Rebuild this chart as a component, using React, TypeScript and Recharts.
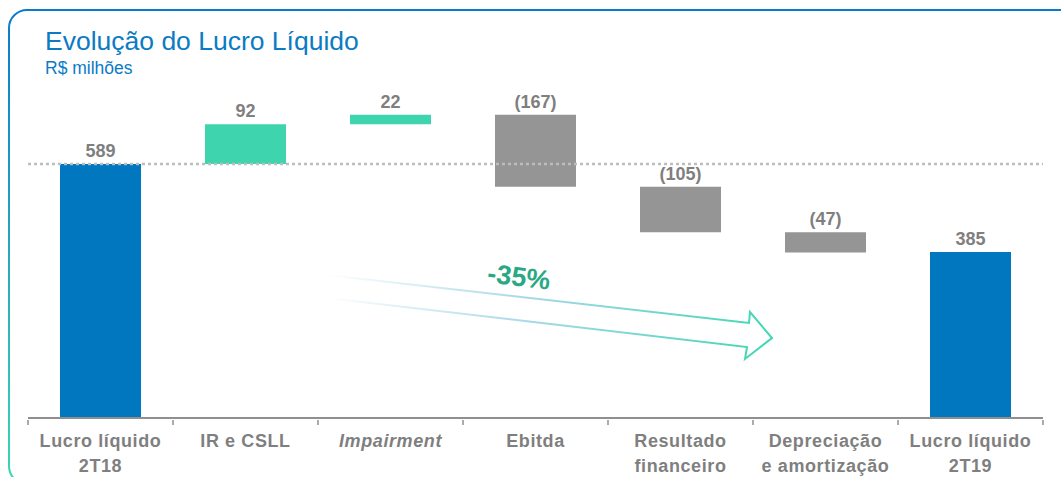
import React from 'react';
import { BarChart, Bar, XAxis, YAxis, Cell, LabelList, ReferenceLine } from 'recharts';

// categories, values and kinds for the waterfall
const categories = [
  'Lucro líquido\n2T18',
  'IR e CSLL',
  'Impairment',
  'Ebitda',
  'Resultado\nfinanceiro',
  'Depreciação\ne amortização',
  'Lucro líquido\n2T19',
];
const values = [589, 92, 22, -167, -105, -47, 385];
const kinds = ['total', 'delta', 'delta', 'delta', 'delta', 'delta', 'total'];
const italicCategories = ['Impairment'];
const referenceValue = 589;

const WIDTH = 1061;
const HEIGHT = 477;
const AXIS_HEIGHT = 59;
const MARGIN = { top: 73, right: 18, bottom: 0, left: 28 };
const BAND = (WIDTH - MARGIN.left - MARGIN.right) / categories.length;

const BLUE = '#0077bf';
const TEAL = '#3dd4ae';
const GRAY = '#959595';
const TEXT_GRAY = '#7f7f7f';

interface Row {
  name: string;
  base: number;
  size: number;
  value: number;
  color: string;
}

const buildRows = (): Row[] => {
  let running = 0;
  return categories.map((name, i) => {
    const v = values[i];
    if (kinds[i] === 'total') {
      running = v;
      return { name, base: 0, size: v, value: v, color: BLUE };
    }
    const start = running;
    running = start + v;
    return {
      name,
      base: Math.min(start, running),
      size: Math.abs(v),
      value: v,
      color: v >= 0 ? TEAL : GRAY,
    };
  });
};

const rows = buildRows();

const fmt = (v: number) => (v < 0 ? `(${Math.abs(v)})` : `${v}`);

const CategoryTick = (props: any) => {
  const { x, y, payload, index } = props;
  const lines = String(payload.value).split('\n');
  const italic = italicCategories.includes(payload.value);
  const left = x - BAND / 2;
  return (
    <g>
      <line x1={left} x2={left} y1={y} y2={y + 5} stroke="#8f8f8f" strokeWidth={1.5} />
      {index === categories.length - 1 && (
        <line x1={x + BAND / 2} x2={x + BAND / 2} y1={y} y2={y + 5} stroke="#8f8f8f" strokeWidth={1.5} />
      )}
      {lines.map((l, i) => (
        <text
          key={i}
          x={x}
          y={y + 27 + i * 25}
          textAnchor="middle"
          fill={TEXT_GRAY}
          fontSize={18}
          fontWeight="bold"
          fontStyle={italic ? 'italic' : 'normal'}
          letterSpacing={0.6}
        >
          {l}
        </text>
      ))}
    </g>
  );
};

const ValueLabel = (props: any) => {
  const { x, y, width, index } = props;
  return (
    <text
      x={x + width / 2}
      y={y - 7}
      textAnchor="middle"
      fill={TEXT_GRAY}
      fontSize={18}
      fontWeight="bold"
    >
      {fmt(rows[index].value)}
    </text>
  );
};

const App = () => {
  return (
    <div
      style={{
        position: 'absolute',
        top: 0,
        left: 0,
        width: WIDTH,
        height: HEIGHT,
        overflow: 'hidden',
        background: '#fff',
        fontFamily: '"Liberation Sans", Arial, sans-serif',
      }}
    >
      <svg width={WIDTH} height={HEIGHT} style={{ position: 'absolute', top: 0, left: 0 }}>
        <defs>
          <linearGradient id="frame" x1="0" y1="0" x2="0" y2="1">
            <stop offset="0%" stopColor="#0a7bcb" />
            <stop offset="100%" stopColor="#3dd6b2" />
          </linearGradient>
        </defs>
        <rect x={9} y={10} width={1200} height={474} rx={18} fill="none" stroke="url(#frame)" strokeWidth={2} />
        <text x={45} y={50} fontSize={26.5} fill="#0b7bc4">Evolução do Lucro Líquido</text>
        <text x={45} y={74} fontSize={17.5} fill="#0b7bc4">R$ milhões</text>
      </svg>
      <div style={{ position: 'absolute', top: 0, left: 0 }}>
        <BarChart width={WIDTH} height={HEIGHT} data={rows} margin={MARGIN} barSize={81}>
          <YAxis hide domain={[0, 800]} />
          <XAxis
            dataKey="name"
            height={AXIS_HEIGHT}
            axisLine={{ stroke: '#8f8f8f', strokeWidth: 2 }}
            tickLine={false}
            tickSize={0}
            tick={<CategoryTick />}
            interval={0}
          />
          <ReferenceLine y={referenceValue} stroke="#bdbdbd" strokeWidth={2.5} strokeDasharray="3 3" />
          <Bar dataKey="base" stackId="w" fill="transparent" isAnimationActive={false} />
          <Bar dataKey="size" stackId="w" isAnimationActive={false}>
            {rows.map((r, i) => (
              <Cell key={i} fill={r.color} />
            ))}
            <LabelList dataKey="size" content={<ValueLabel />} />
          </Bar>
        </BarChart>
      </div>
      <svg width={WIDTH} height={HEIGHT} style={{ position: 'absolute', top: 0, left: 0, pointerEvents: 'none' }}>
        <defs>
          <linearGradient id="arrow" x1="327" y1="0" x2="772" y2="0" gradientUnits="userSpaceOnUse">
            <stop offset="0%" stopColor="#ffffff" />
            <stop offset="45%" stopColor="#a8d8e8" />
            <stop offset="100%" stopColor="#3dd6b2" />
          </linearGradient>
        </defs>
        <path
          d="M327,275 L749,323 L750,312 L772,338 L745,359 L747,347 L327,298"
          fill="none"
          stroke="url(#arrow)"
          strokeWidth={2}
          strokeLinejoin="miter"
        />
        <text
          x={519}
          y={286}
          textAnchor="middle"
          fontSize={27}
          fontWeight="bold"
          fill="#2aa884"
          transform="rotate(7 519 277)"
        >
          -35%
        </text>
      </svg>
    </div>
  );
};

export default App;
